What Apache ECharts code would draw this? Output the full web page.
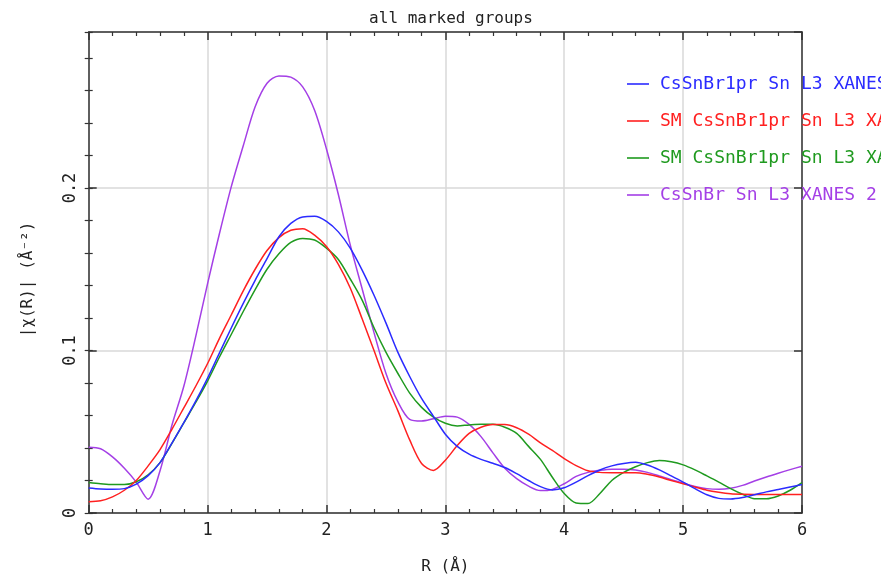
<!DOCTYPE html>
<html>
<head>
<meta charset="utf-8">
<script src="https://cdn.jsdelivr.net/npm/echarts@6/dist/echarts.min.js"></script>
<style>
  html, body { margin: 0; padding: 0; background: #fff; }
  #chart { width: 881px; height: 580px; }
</style>
</head>
<body>
<div id="chart"></div>
<script>
// R grid (Å) shared by every spectrum
const rValues = [
  0.0, 0.1, 0.2, 0.3, 0.4, 0.5, 0.6, 0.7, 0.8, 0.9,
  1.0, 1.1, 1.2, 1.3, 1.4, 1.5, 1.6, 1.7, 1.8, 1.9,
  2.0, 2.1, 2.2, 2.3, 2.4, 2.5, 2.6, 2.7, 2.8, 2.9,
  3.0, 3.1, 3.2, 3.3, 3.4, 3.5, 3.6, 3.7, 3.8, 3.9,
  4.0, 4.1, 4.2, 4.3, 4.4, 4.5, 4.6, 4.7, 4.8, 4.9,
  5.0, 5.1, 5.2, 5.3, 5.4, 5.5, 5.6, 5.7, 5.8, 5.9,
  6.0
];

const seriesNames = [
  'CsSnBr1pr Sn L3 XANES 1',
  'SM CsSnBr1pr Sn L3 XANES 1',
  'SM CsSnBr1pr Sn L3 XANES 2',
  'CsSnBr Sn L3 XANES 2'
];

const seriesColors = ['#2b2bff', '#ff2020', '#1f9a1f', '#a43fe6'];

// |chi(R)| magnitudes
const chiCsSnBr1pr = [
  0.0154, 0.0148, 0.0146, 0.0150, 0.0178, 0.0230, 0.0310, 0.0430, 0.0556, 0.0688,
  0.0830, 0.0985, 0.1140, 0.1290, 0.1432, 0.1565, 0.1700, 0.1782, 0.1822, 0.1826,
  0.1795, 0.1730, 0.1630, 0.1495, 0.1340, 0.1170, 0.0990, 0.0840, 0.0705, 0.0595,
  0.0485, 0.0410, 0.0362, 0.0330, 0.0306, 0.0280, 0.0242, 0.0200, 0.0162, 0.0142,
  0.0155, 0.0190, 0.0230, 0.0265, 0.0290, 0.0305, 0.0312, 0.0295, 0.0265, 0.0228,
  0.0190, 0.0150, 0.0112, 0.0090, 0.0086, 0.0095, 0.0112, 0.0130, 0.0145, 0.0160,
  0.0175
];

const chiSmCsSnBr1prA = [
  0.0069, 0.0075, 0.0099, 0.0140, 0.0200, 0.0290, 0.0390, 0.0515, 0.0647, 0.0780,
  0.0920, 0.1075, 0.1220, 0.1367, 0.1500, 0.1615, 0.1695, 0.1740, 0.1750, 0.1710,
  0.1640, 0.1530, 0.1385, 0.1195, 0.1000, 0.0800, 0.0630, 0.0450, 0.0305, 0.0262,
  0.0325, 0.0415, 0.0490, 0.0528, 0.0545, 0.0545, 0.0525, 0.0485, 0.0432, 0.0385,
  0.0335, 0.0292, 0.0260, 0.0250, 0.0248, 0.0248, 0.0248, 0.0238, 0.0221, 0.0200,
  0.0180, 0.0160, 0.0140, 0.0127, 0.0118, 0.0115, 0.0114, 0.0114, 0.0114, 0.0114,
  0.0114
];

const chiSmCsSnBr1prB = [
  0.0187, 0.0180, 0.0175, 0.0175, 0.0192, 0.0235, 0.0310, 0.0428, 0.0554, 0.0680,
  0.0812, 0.0960, 0.1100, 0.1240, 0.1375, 0.1500, 0.1595, 0.1665, 0.1690, 0.1680,
  0.1630, 0.1560, 0.1440, 0.1310, 0.1140, 0.0990, 0.0860, 0.0738, 0.0650, 0.0590,
  0.0552, 0.0536, 0.0542, 0.0546, 0.0546, 0.0528, 0.0490, 0.0410, 0.0330, 0.0220,
  0.0120, 0.0062, 0.0058, 0.0120, 0.0200, 0.0250, 0.0285, 0.0310, 0.0323, 0.0315,
  0.0296, 0.0265, 0.0228, 0.0190, 0.0150, 0.0115, 0.0088, 0.0088, 0.0105, 0.0140,
  0.0187
];

const chiCsSnBr = [
  0.0405, 0.0395, 0.0345, 0.0275, 0.0190, 0.0085, 0.0260, 0.0540, 0.0780, 0.1085,
  0.1412, 0.1720, 0.2010, 0.2260, 0.2500, 0.2645, 0.2690, 0.2682, 0.2622, 0.2478,
  0.2240, 0.1960, 0.1650, 0.1380, 0.1110, 0.0860, 0.0685, 0.0576, 0.0566, 0.0580,
  0.0596, 0.0590, 0.0545, 0.0470, 0.0370, 0.0275, 0.0211, 0.0165, 0.0138, 0.0145,
  0.0180, 0.0225, 0.0250, 0.0263, 0.0270, 0.0270, 0.0265, 0.0250, 0.0228, 0.0205,
  0.0185, 0.0163, 0.0150, 0.0146, 0.0152, 0.0170, 0.0197, 0.0222, 0.0245, 0.0267,
  0.0288
];

const xTickLabels = ['0', '1', '2', '3', '4', '5', '6'];
const yTickLabels = ['0', '0.1', '0.2'];

const allSeries = [chiCsSnBr1pr, chiSmCsSnBr1prA, chiSmCsSnBr1prB, chiCsSnBr];

const FONT = 'DejaVu Sans Mono';
const AXIS_COLOR = '#333';
const GRID_COLOR = '#d8d8d8';
const R_MIN = 0, R_MAX = 6;
const Y_MIN = 0, Y_MAX = 0.296;

const chart = echarts.init(document.getElementById('chart'), null, { renderer: 'canvas' });

function pairs(values) {
  return rValues.map((r, i) => [r, values[i]]);
}

const axisLine = { show: true, onZero: false, lineStyle: { color: AXIS_COLOR, width: 1.5 } };

const option = {
  animation: false,
  backgroundColor: '#fff',
  title: {
    text: 'all marked groups',
    left: 446,
    top: 6,
    textAlign: 'center',
    textStyle: { fontFamily: FONT, fontSize: 16, fontWeight: 'normal', color: '#222' }
  },
  legend: {
    orient: 'vertical',
    left: 622,
    top: 70,
    icon: 'rect',
    itemWidth: 22,
    itemHeight: 1.6,
    itemGap: 19,
    data: seriesNames.map((n, i) => ({
      name: n,
      itemStyle: { color: seriesColors[i] },
      textStyle: { color: seriesColors[i] }
    })),
    textStyle: { fontFamily: FONT, fontSize: 18, padding: [0, 0, 0, 6] }
  },
  grid: { left: 88.7, right: 79, top: 32, bottom: 62, containLabel: false },
  xAxis: [
    {
      type: 'value', position: 'bottom', min: R_MIN, max: R_MAX, interval: 1,
      name: 'R (Å)', nameLocation: 'middle', nameGap: 46,
      nameTextStyle: { fontFamily: FONT, fontSize: 16, color: '#222' },
      axisLine,
      axisTick: { inside: true, length: 8, lineStyle: { color: AXIS_COLOR, width: 1.5 } },
      minorTick: { show: true, splitNumber: 5, length: 4, lineStyle: { color: AXIS_COLOR, width: 1.2 } },
      splitLine: { show: true, lineStyle: { color: GRID_COLOR, width: 1.5 } },
      axisLabel: {
        margin: 9, fontFamily: FONT, fontSize: 17, color: '#222',
        formatter: (v) => xTickLabels[Math.round(v)] ?? ''
      }
    },
    {
      type: 'value', position: 'top', min: R_MIN, max: R_MAX, interval: 1,
      axisLine,
      axisTick: { inside: true, length: 8, lineStyle: { color: AXIS_COLOR, width: 1.5 } },
      minorTick: { show: true, splitNumber: 5, length: 4, lineStyle: { color: AXIS_COLOR, width: 1.2 } },
      splitLine: { show: false },
      axisLabel: { show: false }
    }
  ],
  yAxis: [
    {
      type: 'value', position: 'left', min: Y_MIN, max: Y_MAX, interval: 0.1,
      name: '|χ(R)| (Å⁻²)', nameLocation: 'middle', nameGap: 53, nameRotate: 90,
      nameTextStyle: { fontFamily: FONT, fontSize: 16, color: '#222', padding: [0, 14, 0, 0] },
      axisLine,
      axisTick: { inside: true, length: 8, lineStyle: { color: AXIS_COLOR, width: 1.5 } },
      splitLine: { show: true, lineStyle: { color: GRID_COLOR, width: 1.5 } },
      axisLabel: {
        rotate: 90, margin: 10, showMaxLabel: false,
        fontFamily: FONT, fontSize: 17, color: '#222',
        formatter: (v) => yTickLabels[Math.round(v * 10)] ?? ''
      }
    },
    {
      // minor ticks on the left frame
      type: 'value', position: 'left', min: Y_MIN, max: Y_MAX, interval: 0.02,
      axisLine: { show: false },
      axisTick: { inside: true, length: 4, lineStyle: { color: AXIS_COLOR, width: 1.2 } },
      splitLine: { show: false },
      axisLabel: { show: false }
    },
    {
      type: 'value', position: 'right', min: Y_MIN, max: Y_MAX, interval: 0.1,
      axisLine,
      axisTick: { inside: true, length: 8, lineStyle: { color: AXIS_COLOR, width: 1.5 } },
      splitLine: { show: false },
      axisLabel: { show: false }
    },
    {
      // minor ticks on the right frame
      type: 'value', position: 'right', min: Y_MIN, max: Y_MAX, interval: 0.02,
      axisLine: { show: false },
      axisTick: { inside: true, length: 4, lineStyle: { color: AXIS_COLOR, width: 1.2 } },
      splitLine: { show: false },
      axisLabel: { show: false }
    }
  ],
  series: allSeries.map((vals, i) => ({
    name: seriesNames[i],
    type: 'line',
    xAxisIndex: 0,
    yAxisIndex: 0,
    data: pairs(vals),
    smooth: 0.3,
    symbol: 'none',
    lineStyle: { color: seriesColors[i], width: 1.5 },
    itemStyle: { color: seriesColors[i] },
    z: 3 + (allSeries.length - i)
  }))
};

chart.setOption(option);
</script>
</body>
</html>
